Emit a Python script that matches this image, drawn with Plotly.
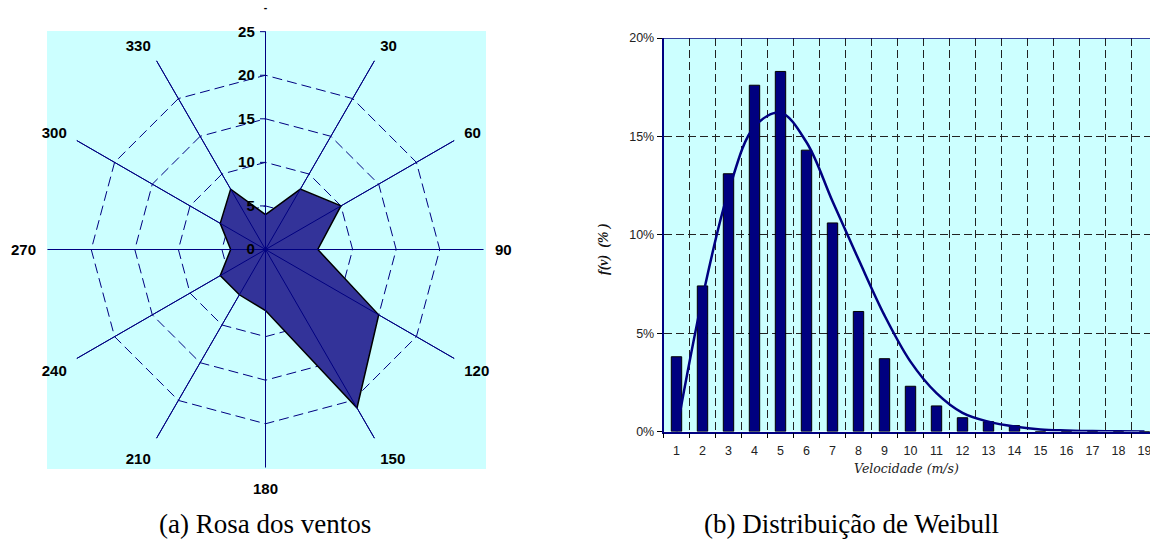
import plotly.graph_objects as go

# ---------------- data ----------------
directions = ["-", "30", "60", "90", "120", "150", "180", "210", "240", "270", "300", "330"]
wind_freq = [4, 8, 10, 6, 15, 21, 7, 6, 6, 4, 6, 8]
radial_ticks = [0, 5, 10, 15, 20, 25]
radial_max = 25

speeds = [str(i) for i in range(1, 20)]
observed = [3.8, 7.4, 13.1, 17.6, 18.3, 14.3, 10.6, 6.1, 3.7, 2.3, 1.3, 0.7, 0.5, 0.3, 0.0, 0.0, 0.0, 0.0, 0.0]
weibull = [0.0, 6.8, 12.2, 15.5, 16.2, 14.7, 11.7, 8.75, 5.9, 3.55, 1.95, 0.95, 0.5, 0.25, 0.1, 0.05, 0.02, 0.01, 0.0]
y_ticks = [0, 5, 10, 15, 20]
y_tick_text = ["0%", "5%", "10%", "15%", "20%"]

# body margin is removed below, so figure pixels == page pixels
W, H = 1150, 546
def px(x):
    return x / W
def py(y):
    return 1 - y / H

NAVY = "#000080"
CYAN = "#CCFFFF"

fig = go.Figure()

# ---------------- radar (left) ----------------
fig.add_trace(go.Scatterpolar(
    r=wind_freq + wind_freq[:1], theta=directions + directions[:1],
    mode="lines", fill="toself", fillcolor="#333399",
    line=dict(color="black", width=1.5), showlegend=False, hoverinfo="skip",
))
# spokes drawn above the filled area
spk_r, spk_t = [], []
for d in directions:
    spk_r += [0, radial_max, None]
    spk_t += [d, d, d]
fig.add_trace(go.Scatterpolar(
    r=spk_r, theta=spk_t, mode="lines", line=dict(color=NAVY, width=1),
    showlegend=False, hoverinfo="skip", connectgaps=False,
))

bold_font = dict(family="Liberation Sans, Arial", size=15, color="black", weight="bold")

# the top label sits higher above the polygon in the original
dir_labels = ["<sup>" + d + "</sup>" if d == "-" else d for d in directions]

fig.update_layout(polar=dict(
    domain=dict(x=[px(47.5), px(483.5)], y=[py(467.5), py(31.5)]),
    bgcolor="rgba(0,0,0,0)",
    gridshape="linear",
    radialaxis=dict(
        range=[0, radial_max + 0.02], tickvals=radial_ticks, angle=90,
        side="counterclockwise", tickangle=90,
        tickfont=bold_font, showline=True, linecolor=NAVY, linewidth=1,
        gridcolor=NAVY, griddash="10px,5px", gridwidth=1,
        ticks="outside", ticklen=5, tickcolor=NAVY, layer="above traces",
    ),
    angularaxis=dict(
        type="category", categoryarray=directions, rotation=90,
        direction="clockwise", showline=False, gridcolor=NAVY, gridwidth=1,
        tickmode="array", tickvals=directions, ticktext=dir_labels,
        tickfont=bold_font, ticks="outside", ticklen=8, tickcolor="rgba(0,0,0,0)",
    ),
))

# ---------------- Weibull histogram (right) ----------------
fig.add_trace(go.Bar(
    x=speeds, y=observed, width=0.4,
    marker=dict(color=NAVY, line=dict(color="black", width=1)),
    showlegend=False, xaxis="x", yaxis="y",
))
fig.add_trace(go.Scatter(
    x=speeds, y=weibull, mode="lines", line=dict(color=NAVY, width=2.5, shape="spline"),
    showlegend=False, xaxis="x", yaxis="y",
))

tick_font = dict(family="Liberation Sans, Arial", size=12.5, color="#222222")
x_left = 663.5
unit = 26.0
fig.update_layout(
    xaxis=dict(
        domain=[px(x_left), 1.0], type="category", categoryarray=speeds,
        range=[-0.5, -0.5 + (W - x_left) / unit], tickson="boundaries",
        ticks="outside", ticklen=5, tickcolor="black", ticklabelstandoff=7,
        ticklabeloverflow="allow",
        showgrid=True, gridcolor="#222222", griddash="8px,4px", gridwidth=1,
        showline=True, linecolor=NAVY, linewidth=1.5, tickfont=tick_font, anchor="y",
        automargin=False,
    ),
    yaxis=dict(
        domain=[py(431.5), py(38)], range=[0, 20], tickvals=y_ticks, ticktext=y_tick_text,
        ticks="outside", ticklen=5, tickcolor="black",
        showgrid=True, gridcolor="#222222", griddash="8px,4px", gridwidth=1,
        showline=True, linecolor=NAVY, linewidth=1.5, zeroline=False,
        tickfont=tick_font, anchor="x", automargin=False,
    ),
    plot_bgcolor=CYAN,
)

shapes = [
    dict(type="rect", xref="paper", yref="paper", x0=px(47), x1=px(486), y0=py(469), y1=py(31),
         fillcolor=CYAN, line=dict(width=0), layer="below"),
    dict(type="line", xref="x domain", yref="y", x0=0, x1=1, y0=20, y1=20,
         line=dict(color=NAVY, width=1.5)),
]

serif = "Liberation Serif, Times New Roman"
def ann(text, x, y, font, angle=0):
    return dict(text=text, x=px(x), y=py(y), xref="paper", yref="paper",
                xanchor="center", yanchor="middle", showarrow=False,
                textangle=angle, font=font)

annotations = [
    ann("<b><i>f(v)\u00a0\u00a0(%\u00a0)</i></b>", 604, 249,
        dict(family=serif, size=14, color="#111111", weight="bold"), angle=-90),
    ann("<i>Velocidade (m/s)</i>", 906, 469,
        dict(family="DejaVu Serif", size=12.5, color="#222222")),
    ann("(a) Rosa dos ventos", 265, 524, dict(family=serif, size=27, color="black")),
    ann("(b) Distribuição de Weibull", 851, 524, dict(family=serif, size=27, color="black")),
]

fig.update_layout(
    width=W, height=H, margin=dict(l=0, r=0, t=0, b=0, autoexpand=False),
    paper_bgcolor="white", shapes=shapes, annotations=annotations,
    showlegend=False, bargap=0.6,
)

fig.write_html(
    "out.html",
    config={"displayModeBar": False},
    post_script="document.body.style.margin='0';document.body.style.overflow='hidden';",
)
